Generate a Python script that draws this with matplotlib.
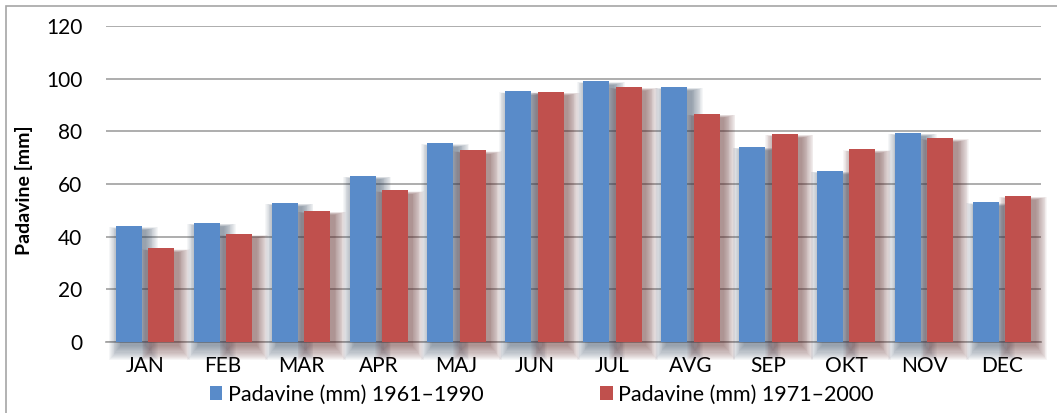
import numpy as np
import matplotlib
matplotlib.use('Agg')
import matplotlib.pyplot as plt
from matplotlib.patches import Rectangle, Patch

plt.rcParams['font.family'] = ['Lato', 'DejaVu Sans']

months = ['JAN', 'FEB', 'MAR', 'APR', 'MAJ', 'JUN', 'JUL', 'AVG', 'SEP', 'OKT', 'NOV', 'DEC']
rain_1961_1990 = [44.0, 45.3, 52.9, 63.2, 75.5, 95.2, 99.1, 96.9, 74.2, 65.1, 79.5, 53.1]
rain_1971_2000 = [35.6, 41.0, 49.8, 57.6, 72.8, 95.1, 96.9, 86.7, 79.0, 73.2, 77.4, 55.5]
label_a = 'Padavine (mm) 1961–1990'
label_b = 'Padavine (mm) 1971–2000'

blue = '#598BC9'
red = '#C0504D'

fig = plt.figure(figsize=(10.57, 4.13), dpi=100)
ax = fig.add_axes([0.1003, 0.172, 0.8846, 0.765])

x = np.arange(len(months))
w = 0.334
off = 0.208


def soft_shadow(xc, h, color):
    # stacked translucent rectangles give a blurred drop shadow
    dx, dy = 0.06, 1.5
    for k in range(14):
        gx = 0.011 * k
        gy = 0.42 * k
        r = Rectangle((xc - w / 2 + dx - gx, -dy - gy), w + 2 * gx, h + gy * 1.2,
                      facecolor=color, edgecolor='none', alpha=0.045,
                      zorder=1.5, clip_on=False)
        ax.add_patch(r)


for i in range(len(months)):
    soft_shadow(x[i] - off, rain_1961_1990[i], '#2a3f5c')
    soft_shadow(x[i] + off, rain_1971_2000[i], '#5a2220')

ax.bar(x - off, rain_1961_1990, width=w, color=blue, zorder=3, label=label_a)
ax.bar(x + off, rain_1971_2000, width=w, color=red, zorder=3, label=label_b)

ax.set_xlim(-0.5, len(months) - 0.5)
ax.set_ylim(0, 120)
ax.set_yticks(np.arange(0, 121, 20))
ax.set_xticks(x)
ax.set_xticklabels(months)
ax.yaxis.grid(True, color='#a0a0a0', linewidth=1.2, zorder=0)
ax.set_axisbelow(True)
for s in ['top', 'right', 'left']:
    ax.spines[s].set_visible(False)
ax.spines['bottom'].set_color('#a0a0a0')
ax.spines['bottom'].set_linewidth(1.2)
ax.spines['bottom'].set_zorder(0.5)
ax.tick_params(axis='both', length=0, labelsize=15, colors='black')
ax.tick_params(axis='y', pad=17)
ax.tick_params(axis='x', pad=10)
ax.set_ylabel('Padavine [mm]', fontsize=14, fontweight='bold')
ax.yaxis.set_label_coords(-0.078, 0.48)

handles = [Patch(facecolor=blue, label=label_a), Patch(facecolor=red, label=label_b)]
fig.legend(handles=handles, loc='center', bbox_to_anchor=(0.5123, 0.044), ncol=2,
           frameon=False, fontsize=15.5, handlelength=0.6, handleheight=0.6,
           handletextpad=0.25, columnspacing=5.4, borderpad=0)

# outer chart frame
fig.patches.append(Rectangle((6 / 1057, -0.1), 1.2, 1 - 6 / 413 + 0.1,
                             transform=fig.transFigure, fill=False,
                             edgecolor='#a6a6a6', linewidth=1.2))

fig.savefig('out.png', dpi=100)
